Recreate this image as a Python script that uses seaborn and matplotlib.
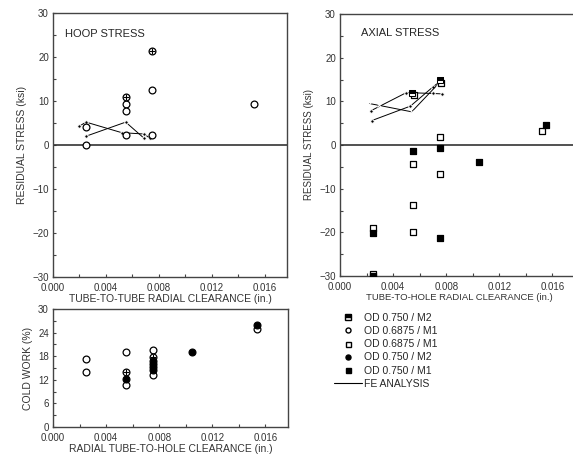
import numpy as np
import matplotlib.pyplot as plt
import seaborn as sns
from matplotlib.lines import Line2D
from matplotlib.ticker import MultipleLocator

# ---- hoop stress (tube-to-tube clearance) ----
hoop_open_x = [0.0025, 0.0025, 0.0055, 0.0055, 0.0055, 0.0075, 0.0075, 0.0152]
hoop_open_y = [4.2, 0.1, 9.3, 7.7, 2.3, 12.4, 2.3, 9.3]
hoop_cross_x = [0.0055, 0.0075]
hoop_cross_y = [11.0, 21.3]
fe_hoop_a_x = [0.0025, 0.0055, 0.0069]
fe_hoop_a_y = [2.0, 5.2, 1.5]
fe_hoop_b_x = [0.0020, 0.0025, 0.0052, 0.0069, 0.0073]
fe_hoop_b_y = [4.3, 5.2, 2.8, 2.5, 1.6]

# ---- axial stress (tube-to-hole clearance) ----
ax_open_sq_x = [0.0025, 0.0025, 0.0055, 0.0055, 0.0055, 0.0056, 0.0075, 0.0075, 0.0076, 0.0152]
ax_open_sq_y = [-19.1, -29.6, -4.3, -13.7, -20.0, 11.4, 1.8, -6.7, 14.3, 3.2]
ax_fill_sq_x = [0.0025, 0.0025, 0.0055, 0.0075, 0.0075, 0.0105, 0.0155]
ax_fill_sq_y = [-20.1, -30.0, -1.3, -0.8, -21.2, -4.0, 4.5]
ax_half_sq_x = [0.0054, 0.0075]
ax_half_sq_y = [11.8, 14.8]
fe_ax_a_x = [0.0024, 0.0053, 0.0070, 0.0075]
fe_ax_a_y = [5.6, 8.9, 13.3, 14.5]
fe_ax_b_x = [0.0023, 0.0050, 0.0070, 0.0077]
fe_ax_b_y = [7.8, 12.0, 11.8, 11.7]
fe_ax_c_x = [0.0022, 0.0029, 0.0054, 0.0074]
fe_ax_c_y = [9.5, 9.1, 7.6, 14.0]

# ---- cold work ----
cw_open_x = [0.0025, 0.0025, 0.0055, 0.0055, 0.0075, 0.0075, 0.0154]
cw_open_y = [17.2, 14.1, 19.0, 10.8, 19.5, 13.1, 25.0]
cw_cross_x = [0.0055, 0.0075]
cw_cross_y = [13.9, 17.7]
cw_fill_x = [0.0055, 0.0075, 0.0075, 0.0075, 0.0075, 0.0105, 0.0154]
cw_fill_y = [12.3, 16.8, 16.0, 15.2, 14.6, 19.0, 26.0]

legend_labels = ['OD 0.750 / M2', 'OD 0.6875 / M1', 'OD 0.6875 / M1',
                 'OD 0.750 / M2', 'OD 0.750 / M1', 'FE ANALYSIS']

sns.set_style("ticks")
plt.rcParams['font.family'] = ['Liberation Sans', 'DejaVu Sans']

W, H = 573, 457
fig = plt.figure(figsize=(W / 100, H / 100), dpi=100)


def box(l, t, r, b):
    return [l / W, 1 - b / H, (r - l) / W, (b - t) / H]


ax1 = fig.add_axes(box(53, 13, 287, 277))
ax2 = fig.add_axes(box(340, 14, 579, 276))
ax3 = fig.add_axes(box(53, 309, 288, 427))

edge = '#444444'
circ = dict(marker='o', s=24, color='white', edgecolor='black', linewidth=0.9, zorder=3)
plus = dict(marker='+', s=24, color='black', linewidth=0.8, zorder=4)
osq = dict(marker='s', s=22, color='white', edgecolor='black', linewidth=0.9, zorder=3)
fsq = dict(marker='s', s=22, color='black', edgecolor='black', linewidth=0.9, zorder=4)
fcirc = dict(marker='o', s=24, color='black', edgecolor='black', linewidth=0.9, zorder=4)
fe = dict(color='black', linewidth=0.7, estimator=None, sort=False, marker='o',
          markersize=2.5, zorder=2)

# hoop
ax1.axhline(0, color='#333333', lw=1.2, zorder=1)
sns.lineplot(x=fe_hoop_a_x, y=fe_hoop_a_y, ax=ax1, **fe)
sns.lineplot(x=fe_hoop_b_x, y=fe_hoop_b_y, ax=ax1, **fe)
sns.scatterplot(x=hoop_open_x, y=hoop_open_y, ax=ax1, **circ)
sns.scatterplot(x=hoop_cross_x, y=hoop_cross_y, ax=ax1, **circ)
sns.scatterplot(x=hoop_cross_x, y=hoop_cross_y, ax=ax1, **plus)
ax1.text(0.05, 0.92, 'HOOP STRESS', transform=ax1.transAxes, fontsize=8, va='center')
ax1.set_ylabel('RESIDUAL STRESS (ksi)', fontsize=7.5)
ax1.set_xlabel('TUBE-TO-TUBE RADIAL CLEARANCE (in.)', fontsize=7.5, labelpad=1)

# axial
ax2.axhline(0, color='#333333', lw=1.2, zorder=1)
sns.lineplot(x=fe_ax_a_x, y=fe_ax_a_y, ax=ax2, **fe)
sns.lineplot(x=fe_ax_b_x, y=fe_ax_b_y, ax=ax2, **fe)
sns.lineplot(x=fe_ax_c_x, y=fe_ax_c_y, ax=ax2, color='black', linewidth=0.7,
             estimator=None, sort=False, marker='x', markersize=3.5, zorder=2)
sns.scatterplot(x=ax_open_sq_x, y=ax_open_sq_y, ax=ax2, **osq)
sns.scatterplot(x=ax_fill_sq_x, y=ax_fill_sq_y, ax=ax2, **fsq)
sns.lineplot(x=ax_half_sq_x, y=ax_half_sq_y, ax=ax2, estimator=None, linestyle='',
             marker='s', markersize=5, fillstyle='top', color='black',
             markerfacecoloralt='white', markeredgecolor='black', zorder=5)
ax2.text(0.088, 0.927, 'AXIAL STRESS', transform=ax2.transAxes, fontsize=8, va='center')
ax2.set_ylabel('RESIDUAL STRESS (ksi)', fontsize=7)
ax2.set_xlabel('TUBE-TO-HOLE RADIAL CLEARANCE (in.)', fontsize=6.8, labelpad=1)

for ax in (ax1, ax2):
    ax.set_ylim(-30, 30)
    ax.yaxis.set_major_locator(MultipleLocator(10))
    ax.yaxis.set_minor_locator(MultipleLocator(5))

# cold work
sns.scatterplot(x=cw_open_x, y=cw_open_y, ax=ax3, **circ)
sns.scatterplot(x=cw_cross_x, y=cw_cross_y, ax=ax3, **circ)
sns.scatterplot(x=cw_cross_x, y=cw_cross_y, ax=ax3, **plus)
sns.scatterplot(x=cw_fill_x, y=cw_fill_y, ax=ax3, **fcirc)
ax3.set_ylim(0, 30)
ax3.yaxis.set_major_locator(MultipleLocator(6))
ax3.yaxis.set_minor_locator(MultipleLocator(3))
ax3.set_ylabel('COLD WORK (%)', fontsize=7.5)
ax3.set_xlabel('RADIAL TUBE-TO-HOLE CLEARANCE (in.)', fontsize=7.5, labelpad=1)

for ax in (ax1, ax3):
    ax.set_xlim(0, 0.0177)
ax2.set_xlim(0, 0.018)

for ax in (ax1, ax2, ax3):
    ax.xaxis.set_major_locator(MultipleLocator(0.004))
    ax.xaxis.set_minor_locator(MultipleLocator(0.002))
    ax.xaxis.set_major_formatter(plt.FuncFormatter(lambda v, p: f'{v:.3f}'))
    ax.tick_params(which='both', direction='in', length=2.5, width=0.8,
                   labelsize=7, colors=edge)
    ax.tick_params(axis='x', pad=4)
    ax.tick_params(axis='y', pad=3)
    ax.tick_params(labelcolor='#333333')
    for sp in ax.spines.values():
        sp.set_visible(True)
        sp.set_color(edge)
        sp.set_linewidth(1.0)
    ax.yaxis.label.set_color('#333333')
    ax.xaxis.label.set_color('#333333')

# legend
handles = [
    Line2D([], [], ls='', marker='s', ms=4, fillstyle='top', color='black',
           markerfacecoloralt='white', mec='black'),
    Line2D([], [], ls='', marker='o', ms=3.6, mfc='white', mec='black'),
    Line2D([], [], ls='', marker='s', ms=3.6, mfc='white', mec='black'),
    Line2D([], [], ls='', marker='o', ms=3.6, mfc='black', mec='black'),
    Line2D([], [], ls='', marker='s', ms=3.6, mfc='black', mec='black'),
    Line2D([], [], color='black', lw=0.8),
]
fig.legend(handles, legend_labels, loc='upper left', bbox_to_anchor=(334 / W, 1 - 313 / H),
           frameon=False, fontsize=7.5, handlelength=2.7, handletextpad=0.2,
           labelspacing=0.3, borderpad=0, borderaxespad=0)

fig.savefig('out.png', dpi=100)
